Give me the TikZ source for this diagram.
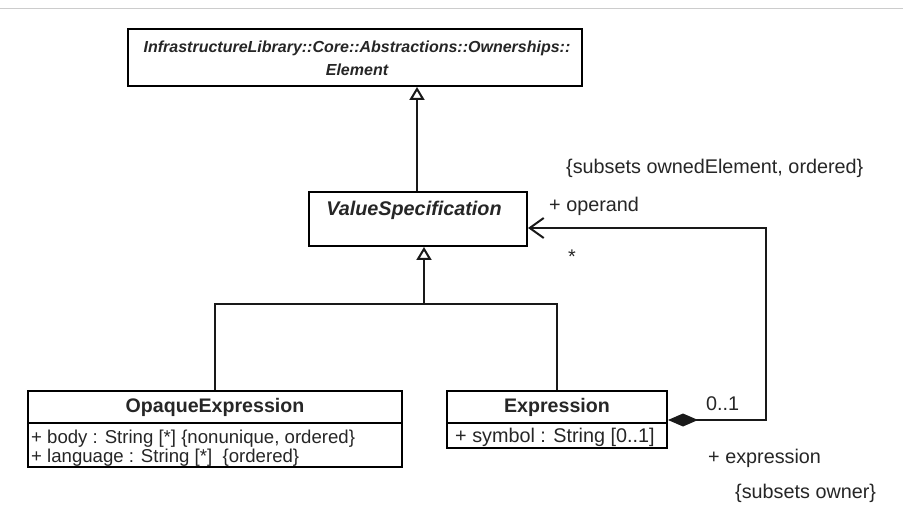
\documentclass[tikz,border=0pt]{standalone}
\usepackage{fontspec}
\setmainfont{Liberation Sans}
\usetikzlibrary{arrows.meta}
\definecolor{txt}{HTML}{262626}
\begin{document}
\begin{tikzpicture}[x=1pt,y=-1pt,
  classbox/.style={draw=black, line width=2pt, inner sep=0pt},
  lbl/.style={font=\fontsize{19.8}{22}\selectfont, text=txt, inner sep=0pt, anchor=west},
  attr/.style={font=\fontsize{18.6}{20}\selectfont, text=txt, inner sep=0pt, anchor=west},
  nm/.style={font=\fontsize{19.6}{22}\selectfont\bfseries, text=txt, inner sep=0pt},
  conn/.style={line width=2.4pt, draw=black!90},
  gen/.style={conn, -{Triangle[open, length=13pt, width=15pt, line width=2pt]}},
  comp/.style={conn, line join=miter, {Diamond[length=30pt, width=13pt]}-{Straight Barb[length=14pt, width=20pt, line width=2pt]}}
]
\useasboundingbox (0,0) rectangle (903,513);
\fill[white] (0,0) rectangle (903,513);
\draw[black!20, line width=1pt] (0,9) -- (903,9);

% classes
\node[classbox, minimum width=454pt, minimum height=57pt] (elem) at (355,57.5) {};
\node[nm, font=\fontsize{16}{23}\selectfont\bfseries\itshape, align=center] (elemtxt) at (357,58)
  {InfrastructureLibrary::Core::Abstractions::Ownerships::\\Element};

\node[classbox, minimum width=218pt, minimum height=54pt] (vs) at (418,219) {};
\node[nm, font=\fontsize{19.8}{22}\selectfont\bfseries\itshape] (vstxt) at (414,210) {ValueSpecification};

\node[classbox, minimum width=374pt, minimum height=76pt] (opaque) at (215,429) {};
\draw[line width=2pt] (28,423) coordinate (os1) -- (402,423) coordinate (os2);
\node[nm] (optxt) at (215,407) {OpaqueExpression};
\node[attr] (opa1) at (31,438.5) {+ body : String [*] \{nonunique, ordered\}};
\node[attr] (opa2) at (31,457.5) {+ language : String [*]\ \ \{ordered\}};

\node[classbox, minimum width=220pt, minimum height=57pt] (expr) at (557,419.5) {};
\draw[line width=2pt] (447,423) coordinate (es1) -- (667,423) coordinate (es2);
\node[nm] (extxt) at (557,407) {Expression};
\node[lbl] (exa1) at (455,437) {+ symbol : String [0..1]};

% generalizations
\coordinate (g1) at (417,0);
\draw[gen] (vs.north -| g1) -- (elem.south -| g1);
\coordinate (junc) at (424,304);
\draw[conn] (opaque.north) |- (junc) -| (expr.north);
\draw[gen] (junc) -- (vs.south -| junc);

% composition
\coordinate (c1) at (766,420);
\coordinate (c2) at (766,228);
\draw[comp] (expr.east |- c1) -- (c1) -- (c2) -- (vs.east |- c2);

% association labels
\node[lbl] (l1) at (566,168) {\{subsets ownedElement, ordered\}};
\node[lbl] (l2) at (549,206) {+ operand};
\node[lbl] (l3) at (568,257) {*};
\node[lbl] (l4) at (706,404) {0..1};
\node[lbl] (l5) at (708,458) {+ expression};
\node[lbl] (l6) at (735,493) {\{subsets owner\}};
\end{tikzpicture}
\end{document}
